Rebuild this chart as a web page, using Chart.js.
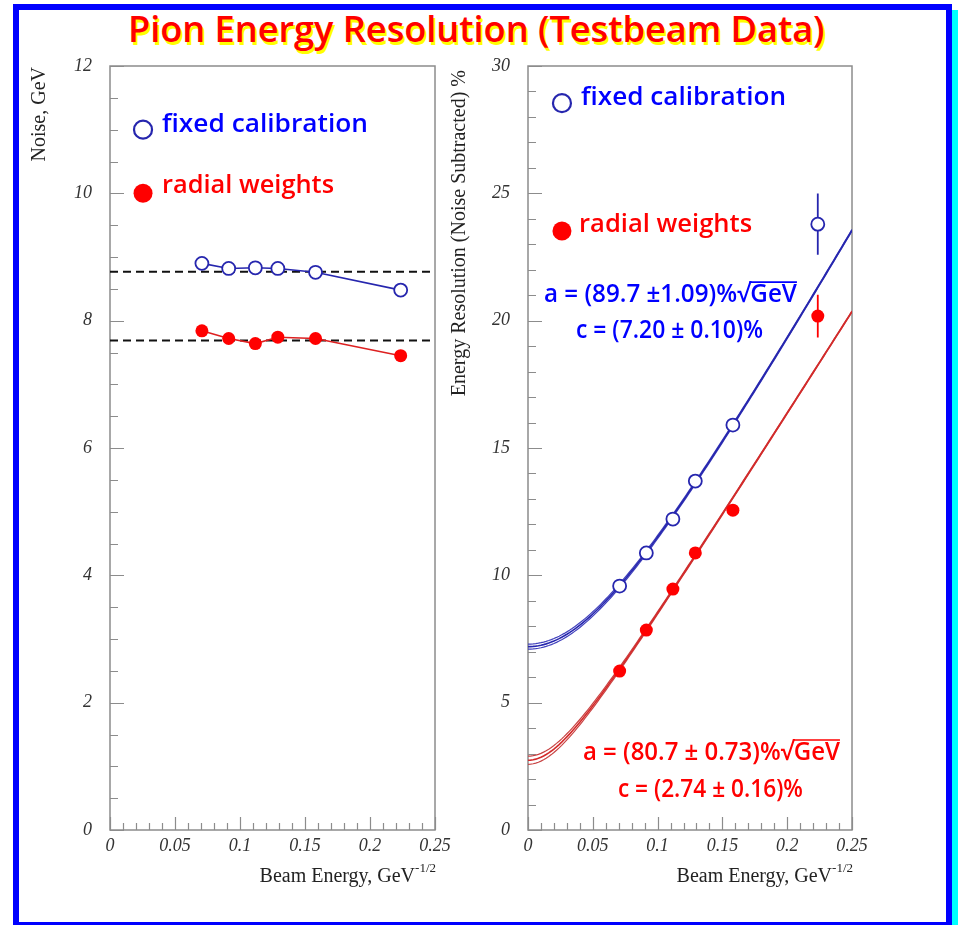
<!DOCTYPE html>
<html>
<head>
<meta charset="utf-8">
<title>Pion Energy Resolution (Testbeam Data)</title>
<script src="https://cdn.jsdelivr.net/npm/chart.js@4.4.1/dist/chart.umd.min.js"></script>
<style>
  body { margin: 0; background: #fff; width: 958px; height: 925px; position: relative; overflow: hidden; }
  #frame { position: absolute; left: 13px; top: 4px; width: 927px; height: 912px; border: 6px solid #0000ff; }
  #shade { position: absolute; left: 952px; top: 10px; width: 6px; height: 915px; background: #00ffff; }
  #title { position: absolute; left: 128px; top: 11px; display: inline-block; white-space: nowrap;
           font: 600 36px/36px "Comic Sans MS", "Open Sans", sans-serif; color: #ff0000;
           text-shadow: 2px 3px 0 #ffff00; transform-origin: 0 0; }
  canvas { position: absolute; }
  #noise { left: 20px; top: 50px; }
  #resol { left: 430px; top: 50px; }
</style>
</head>
<body>
<div id="frame"></div>
<div id="shade"></div>
<div id="title">Pion Energy Resolution (Testbeam Data)</div>
<canvas id="noise" width="450" height="850"></canvas>
<canvas id="resol" width="500" height="850"></canvas>
<script>
// beam energy as 1/sqrt(E), GeV^-1/2  (200, 120, 80, 60, 40, 20 GeV)
const beamX = [0.0707, 0.0913, 0.1118, 0.1291, 0.1581, 0.2236];

// noise, GeV
const noiseFixed = [8.90, 8.82, 8.83, 8.82, 8.76, 8.48];
const noiseRadial = [7.84, 7.72, 7.64, 7.74, 7.72, 7.45];
const noiseFixedMean = 8.77;
const noiseRadialMean = 7.69;

// energy resolution (noise subtracted), %
const resFixed = [9.58, 10.88, 12.21, 13.70, 15.90, 23.79];
const resFixedErr = [0.10, 0.12, 0.14, 0.16, 0.22, 1.20];
const resRadial = [6.24, 7.85, 9.46, 10.88, 12.56, 20.18];
const resRadialErr = [0.08, 0.10, 0.12, 0.14, 0.20, 0.84];

// fit sigma/E = a/sqrt(E) (+) c
const fitFixed = { a: 89.7, da: 1.09, c: 7.20, dc: 0.10 };
const fitRadial = { a: 80.7, da: 0.73, c: 2.74, dc: 0.16 };

// tick labels
const xTicks = [0, 0.05, 0.1, 0.15, 0.2, 0.25];
const noiseTicks = [0, 2, 4, 6, 8, 10, 12];
const resTicks = [0, 5, 10, 15, 20, 25, 30];

const BLUE = '#2626ae';
const RED = '#ff0000';
const serif = '"Liberation Serif", "Times New Roman", serif';
const comic = '"Comic Sans MS", "Open Sans", sans-serif';
const tickFont = { family: serif, size: 18, style: 'italic' };

const pts = ys => beamX.map((x, i) => ({ x, y: ys[i] }));

// fit curve sampled along the axis
const curveX = Array.from({ length: 126 }, (_, i) => i * 0.002);
const fitCurve = (p, c) => curveX.map(x => ({ x, y: Math.sqrt((p.a * x) ** 2 + c * c) }));

// text squeezed/stretched to a given width
function fitText(ctx, str, px, py, width, size, color) {
  ctx.font = '600 ' + size + 'px ' + comic;
  const s = width / ctx.measureText(str).width;
  ctx.save();
  ctx.translate(px, py);
  ctx.scale(s, 1);
  ctx.fillStyle = color;
  ctx.textAlign = 'left';
  ctx.textBaseline = 'alphabetic';
  ctx.fillText(str, 0, 0);
  ctx.restore();
  const k = str.indexOf('√');
  if (k >= 0) {
    const x0 = px + s * ctx.measureText(str.slice(0, k + 1)).width - 1;
    ctx.save();
    ctx.strokeStyle = color;
    ctx.lineWidth = 1.6;
    ctx.beginPath();
    ctx.moveTo(x0, py - size * 0.8);
    ctx.lineTo(px + width, py - size * 0.8);
    ctx.stroke();
    ctx.restore();
  }
}

function decorPlugin(cfg) {
  return {
    id: 'decor',
    beforeDatasetsDraw(chart) {
      const { ctx, chartArea: a, scales: { x, y } } = chart;
      ctx.save();
      ctx.strokeStyle = '#8c8c8c';
      ctx.lineWidth = 1.5;
      ctx.strokeRect(a.left, a.top, a.right - a.left, a.bottom - a.top);

      // inward ticks, ROOT style
      ctx.lineWidth = 1.2;
      ctx.beginPath();
      const nY = Math.round((y.max - y.min) / cfg.yMinor);
      for (let i = 0; i <= nY; i++) {
        const py = Math.round(y.getPixelForValue(y.min + i * cfg.yMinor)) + 0.5;
        const len = i % cfg.yPer === 0 ? 14 : 8;
        ctx.moveTo(a.left, py);
        ctx.lineTo(a.left + len, py);
      }
      const nX = Math.round((x.max - x.min) / 0.01);
      for (let i = 0; i <= nX; i++) {
        const px = Math.round(x.getPixelForValue(x.min + i * 0.01)) + 0.5;
        const len = i % 5 === 0 ? 13 : 7;
        ctx.moveTo(px, a.bottom);
        ctx.lineTo(px, a.bottom - len);
      }
      ctx.stroke();

      // error bars
      (cfg.errors || []).forEach(e => {
        ctx.strokeStyle = e.color;
        ctx.lineWidth = 1.8;
        ctx.beginPath();
        e.y.forEach((v, i) => {
          const px = x.getPixelForValue(beamX[i]);
          ctx.moveTo(px, y.getPixelForValue(v - e.err[i]));
          ctx.lineTo(px, y.getPixelForValue(v + e.err[i]));
        });
        ctx.stroke();
      });
      ctx.restore();
    },
    afterDraw(chart) {
      const { ctx, chartArea: a, scales: { x, y } } = chart;
      ctx.save();

      // axis titles
      ctx.fillStyle = '#222';
      ctx.font = '20px ' + serif;
      ctx.save();
      ctx.translate(cfg.yTitleX, a.top + cfg.yTitleTop);
      ctx.rotate(-Math.PI / 2);
      ctx.textAlign = 'right';
      ctx.textBaseline = 'middle';
      ctx.fillText(cfg.yTitle, 0, 0);
      ctx.restore();

      ctx.textAlign = 'right';
      ctx.textBaseline = 'alphabetic';
      ctx.font = '13px ' + serif;
      const supW = ctx.measureText('-1/2').width;
      const bx = a.right + 1, by = a.bottom + 52;
      ctx.fillText('-1/2', bx, by - 10);
      ctx.font = '20px ' + serif;
      ctx.fillText('Beam Energy, GeV', bx - supW, by);

      // legend
      cfg.legend.forEach(l => {
        const px = x.getPixelForValue(l.mx), py = y.getPixelForValue(l.my);
        ctx.beginPath();
        if (l.open) {
          ctx.arc(px, py, 9, 0, Math.PI * 2);
          ctx.strokeStyle = BLUE;
          ctx.lineWidth = 2.2;
          ctx.stroke();
        } else {
          ctx.arc(px, py, 9.5, 0, Math.PI * 2);
          ctx.fillStyle = RED;
          ctx.fill();
        }
        fitText(ctx, l.text, x.getPixelForValue(l.tx), y.getPixelForValue(l.ty), l.w, 26, l.color);
      });

      // fit results
      (cfg.notes || []).forEach(n => {
        fitText(ctx, n.text, x.getPixelForValue(n.tx), y.getPixelForValue(n.ty), n.w, 25, n.color);
      });
      ctx.restore();
    }
  };
}

function axisX() {
  return {
    type: 'linear', min: 0, max: 0.25,
    grid: { display: false, drawTicks: false }, border: { display: false },
    afterBuildTicks: s => { s.ticks = xTicks.map(v => ({ value: v })); },
    afterFit: s => { s.height = 70; s.paddingLeft = 0; s.paddingRight = 0; },
    ticks: { font: tickFont, color: '#333', padding: 5, maxRotation: 0, autoSkip: false,
             callback: v => String(+v.toFixed(2)) }
  };
}

function axisY(max, labels, width) {
  return {
    type: 'linear', min: 0, max: max,
    grid: { display: false, drawTicks: false }, border: { display: false },
    afterBuildTicks: s => { s.ticks = labels.map(v => ({ value: v })); },
    afterFit: s => { s.width = width; s.paddingTop = 0; s.paddingBottom = 0; },
    ticks: { font: tickFont, color: '#333', padding: 18, autoSkip: false }
  };
}

const common = {
  responsive: false,
  animation: false,
  events: [],
  plugins: { legend: { display: false }, tooltip: { enabled: false } }
};

// left: noise vs beam energy
new Chart(document.getElementById('noise'), {
  type: 'scatter',
  data: {
    datasets: [
      { data: pts(noiseFixed), showLine: true, borderColor: BLUE, borderWidth: 1.6,
        pointRadius: 6.5, pointBorderWidth: 1.8, pointBorderColor: BLUE, pointBackgroundColor: '#fff' },
      { data: pts(noiseRadial), showLine: true, borderColor: '#dd2020', borderWidth: 1.6,
        pointRadius: 6.5, pointBorderWidth: 0, pointBackgroundColor: RED },
      { data: [{ x: 0, y: noiseFixedMean }, { x: 0.25, y: noiseFixedMean }], showLine: true,
        borderColor: '#111', borderWidth: 2, borderDash: [8, 5], pointRadius: 0 },
      { data: [{ x: 0, y: noiseRadialMean }, { x: 0.25, y: noiseRadialMean }], showLine: true,
        borderColor: '#111', borderWidth: 2, borderDash: [8, 5], pointRadius: 0 }
    ]
  },
  options: {
    ...common,
    layout: { padding: { top: 16, right: 35, left: 0, bottom: 0 } },
    scales: { x: axisX(), y: axisY(12, noiseTicks, 90) }
  },
  plugins: [decorPlugin({
    yMinor: 0.5, yPer: 4,
    yTitle: 'Noise, GeV', yTitleX: 20, yTitleTop: 1,
    legend: [
      { open: true, mx: 0.0254, my: 11.0, text: 'fixed calibration', tx: 0.040, ty: 10.96, w: 206, color: '#0000ff' },
      { open: false, mx: 0.0254, my: 10.0, text: 'radial weights', tx: 0.040, ty: 10.0, w: 172, color: '#ff0000' }
    ]
  })]
});

// right: energy resolution vs beam energy, fit with c +- dc bands
new Chart(document.getElementById('resol'), {
  type: 'scatter',
  data: {
    datasets: [
      { data: pts(resFixed), pointRadius: 6.5, pointBorderWidth: 1.8,
        pointBorderColor: BLUE, pointBackgroundColor: '#fff' },
      { data: pts(resRadial), pointRadius: 6.5, pointBorderWidth: 0, pointBackgroundColor: RED },
      { data: fitCurve(fitFixed, fitFixed.c), showLine: true, borderColor: BLUE, borderWidth: 1.6, pointRadius: 0 },
      { data: fitCurve(fitFixed, fitFixed.c + fitFixed.dc), showLine: true, borderColor: '#4040bc', borderWidth: 1.2, pointRadius: 0 },
      { data: fitCurve(fitFixed, fitFixed.c - fitFixed.dc), showLine: true, borderColor: '#4040bc', borderWidth: 1.2, pointRadius: 0 },
      { data: fitCurve(fitRadial, fitRadial.c), showLine: true, borderColor: '#d42a2a', borderWidth: 1.6, pointRadius: 0 },
      { data: fitCurve(fitRadial, fitRadial.c + fitRadial.dc), showLine: true, borderColor: '#c84444', borderWidth: 1.2, pointRadius: 0 },
      { data: fitCurve(fitRadial, fitRadial.c - fitRadial.dc), showLine: true, borderColor: '#c84444', borderWidth: 1.2, pointRadius: 0 }
    ]
  },
  options: {
    ...common,
    layout: { padding: { top: 16, right: 78, left: 0, bottom: 0 } },
    scales: { x: axisX(), y: axisY(30, resTicks, 98) }
  },
  plugins: [decorPlugin({
    yMinor: 1, yPer: 5,
    yTitle: 'Energy Resolution (Noise Subtracted) %', yTitleX: 30, yTitleTop: 4,
    errors: [
      { y: resFixed, err: resFixedErr, color: BLUE },
      { y: resRadial, err: resRadialErr, color: RED }
    ],
    legend: [
      { open: true, mx: 0.0262, my: 28.54, text: 'fixed calibration', tx: 0.0409, ty: 28.47, w: 205, color: '#0000ff' },
      { open: false, mx: 0.0262, my: 23.52, text: 'radial weights', tx: 0.0394, ty: 23.48, w: 173, color: '#ff0000' }
    ],
    notes: [
      { text: 'a = (89.7 ±1.09)%√GeV', tx: 0.0123, ty: 20.73, w: 253, color: '#0000ff' },
      { text: 'c = (7.20 ± 0.10)%', tx: 0.0370, ty: 19.32, w: 187, color: '#0000ff' },
      { text: 'a = (80.7 ± 0.73)%√GeV', tx: 0.0424, ty: 2.75, w: 257, color: '#ff0000' },
      { text: 'c = (2.74 ± 0.16)%', tx: 0.0694, ty: 1.30, w: 185, color: '#ff0000' }
    ]
  })]
});

// title squeezed to its line width
const title = document.getElementById('title');
title.style.transform = 'scaleX(' + (697 / title.offsetWidth) + ')';
</script>
</body>
</html>
